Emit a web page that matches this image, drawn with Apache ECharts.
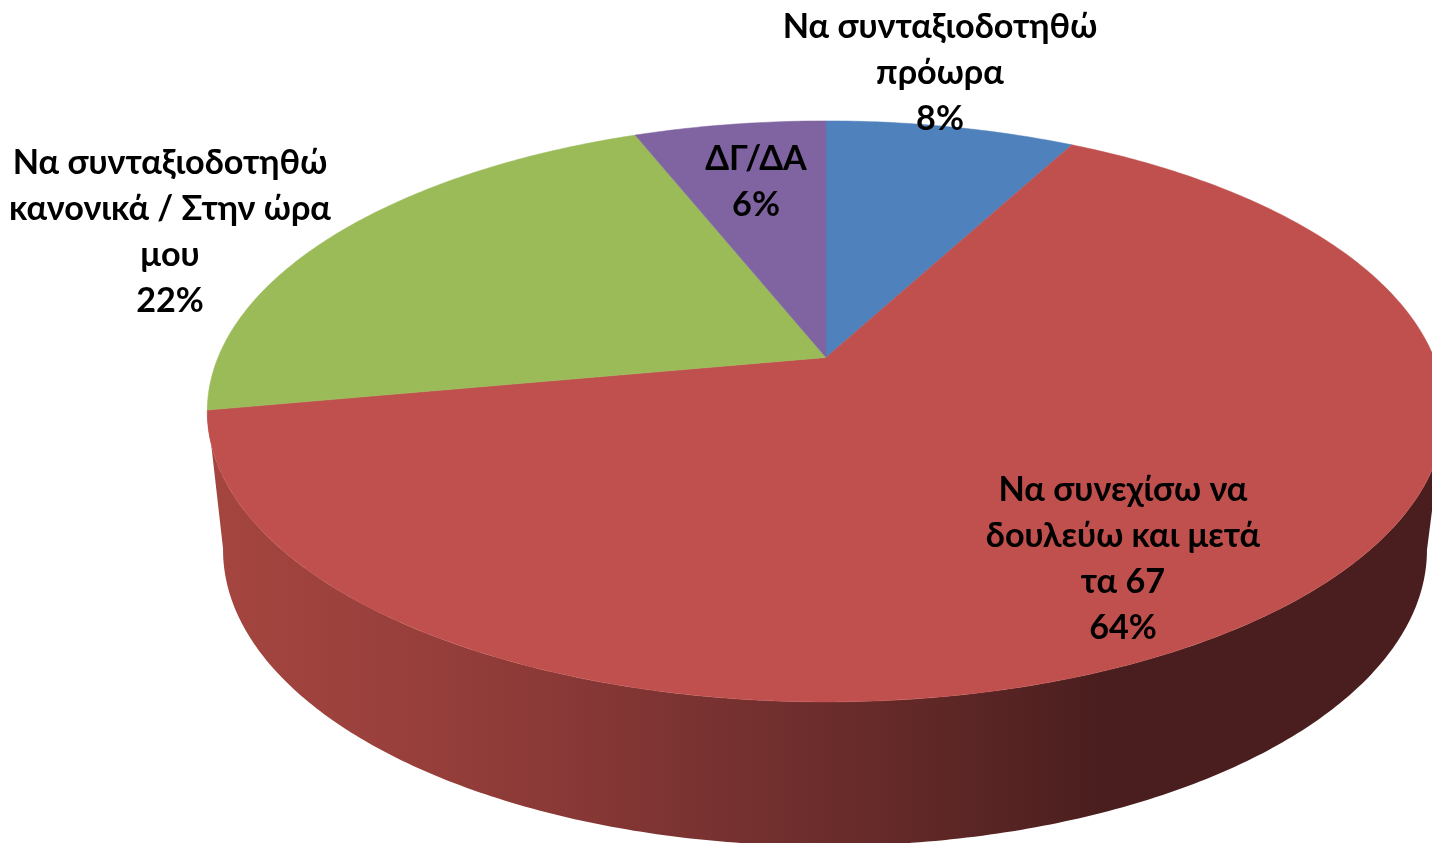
<!DOCTYPE html>
<html><head><meta charset="utf-8">
<style>html,body{margin:0;padding:0;background:#fff}#c{width:1432px;height:843px}</style>
<script src="https://cdn.jsdelivr.net/npm/echarts@6/dist/echarts.min.js"></script>
</head><body><div id="c"></div>
<script>
const categories = ["Να συνταξιοδοτηθώ\nπρόωρα", "Να συνεχίσω να\nδουλεύω και μετά\nτα 67", "Να συνταξιοδοτηθώ\nκανονικά / Στην ώρα\nμου", "ΔΓ/ΔΑ"];
const values = [7.8, 64.3, 21.9, 6.0];
const colors = ["#4f81bd", "#c0504d", "#9bbb59", "#8064a2"];

// layout only
const labelAnchors = [[940, 73], [1123, 559], [170, 232], [756, 182]];
const top3d = {x0: 826, y0: 357.5, ax: 608, ay: 280.5, q: 0.1856};
const bottom3d = {x0: 825, y0: 495, ax: 591.5, ay: 285.8, q: 0.1856};
const wallIndex = 1;
const FONT = 'Lato, "Noto Sans", sans-serif';

function project(p, t) {
  const u = Math.sin(t), v = Math.cos(t), d = 1 + p.q * v;
  return [p.x0 + p.ax * u / d, p.y0 - p.ay * v / d];
}
function arc(p, a, b) {
  const n = Math.max(8, Math.ceil(Math.abs(b - a) * 90)), pts = [];
  for (let i = 0; i <= n; i++) pts.push(project(p, a + (b - a) * i / n));
  return pts;
}
const total = values.reduce((s, v) => s + v, 0);
const wallGradient = new echarts.graphic.LinearGradient(207, 0, 1432, 0, [
  {offset: 0, color: "#a5453f"}, {offset: 0.15, color: "#9a403c"}, {offset: 0.32, color: "#853735"},
  {offset: 0.5, color: "#6c2d2c"}, {offset: 0.65, color: "#572423"}, {offset: 0.73, color: "#4a1e1e"},
  {offset: 1, color: "#4a1e1e"}], true);

function renderItem(params, api) {
  const i = params.dataIndex;
  let before = 0;
  for (let k = 0; k < i; k++) before += values[k];
  const a = before / total * 2 * Math.PI;
  const b = (before + api.value(0)) / total * 2 * Math.PI;
  const children = [];
  if (i === wallIndex) {
    // the side wall runs between the two outer tangents of the disc
    const start = Math.max(a, Math.acos(-top3d.q));
    const upper = arc(top3d, start, b), lower = arc(bottom3d, start, b).reverse();
    children.push({type: "polygon", z2: 1, shape: {points: upper.concat(lower)},
      style: {fill: wallGradient}});
  }
  children.push({type: "polygon", z2: 2, shape: {points: [[top3d.x0, top3d.y0]].concat(arc(top3d, a, b))},
    style: {fill: colors[i], stroke: colors[i], lineWidth: 0.5}});
  children.push({type: "text", z2: 10, x: labelAnchors[i][0], y: labelAnchors[i][1],
    style: {text: categories[i] + "\n" + Math.round(api.value(0) / total * 100) + "%", font: "bold 34.2px " + FONT, lineHeight: 45.8,
      fill: "#000", align: "center", verticalAlign: "middle"}});
  return {type: "group", children: children};
}

const chart = echarts.init(document.getElementById("c"), null, {renderer: "canvas"});
chart.setOption({
  animation: false,
  backgroundColor: "#fff",
  series: [{type: "custom", coordinateSystem: "none", clip: false, renderItem: renderItem,
    data: values.map((v, i) => ({name: categories[i], value: [v]}))}]
});
</script></body></html>
